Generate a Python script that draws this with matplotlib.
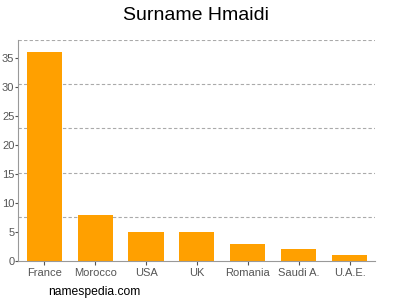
import matplotlib
matplotlib.use("Agg")
import matplotlib.pyplot as plt

plt.rcParams['font.family'] = ['Liberation Sans', 'DejaVu Sans']

countries = ["France", "Morocco", "USA", "UK", "Romania", "Saudi A.", "U.A.E."]
counts = [36, 8, 5, 5, 3, 2, 1]
yticks = [0, 5, 10, 15, 20, 25, 30, 35]

fig = plt.figure(figsize=(4, 3), dpi=100)
ax = fig.add_axes([0.0445, 0.13, 0.893, 0.737])

x = range(len(countries))
ax.bar(x, counts, width=0.69, color="#ffa000", zorder=2)

ymax = 38.1
ax.set_ylim(0, ymax)
ax.set_xlim(-0.52, 6.5)

# dashed grid lines split the axis in five equal parts
for k in range(1, 6):
    ax.axhline(ymax * k / 5, color="#aaaaaa", linestyle=(0, (3, 2)), linewidth=0.8, zorder=1)

ax.set_yticks(yticks)
ax.set_xticks(list(x))
ax.set_xticklabels(countries)
ax.tick_params(axis="x", labelsize=8, colors="#555555", length=3, width=0.8, pad=2)
ax.tick_params(axis="y", labelsize=8, colors="#555555", length=2, width=0.8, pad=0.5)
for s in ["top", "right"]:
    ax.spines[s].set_visible(False)
for s in ["left", "bottom"]:
    ax.spines[s].set_color("#999999")
    ax.spines[s].set_linewidth(0.8)

fig.text(0.49, 0.95, "Surname Hmaidi", ha="center", va="center", fontsize=14)
fig.text(0.12, 0.027, "namespedia.com", ha="left", va="center", fontsize=8.7)

fig.savefig("out.png", dpi=100)
